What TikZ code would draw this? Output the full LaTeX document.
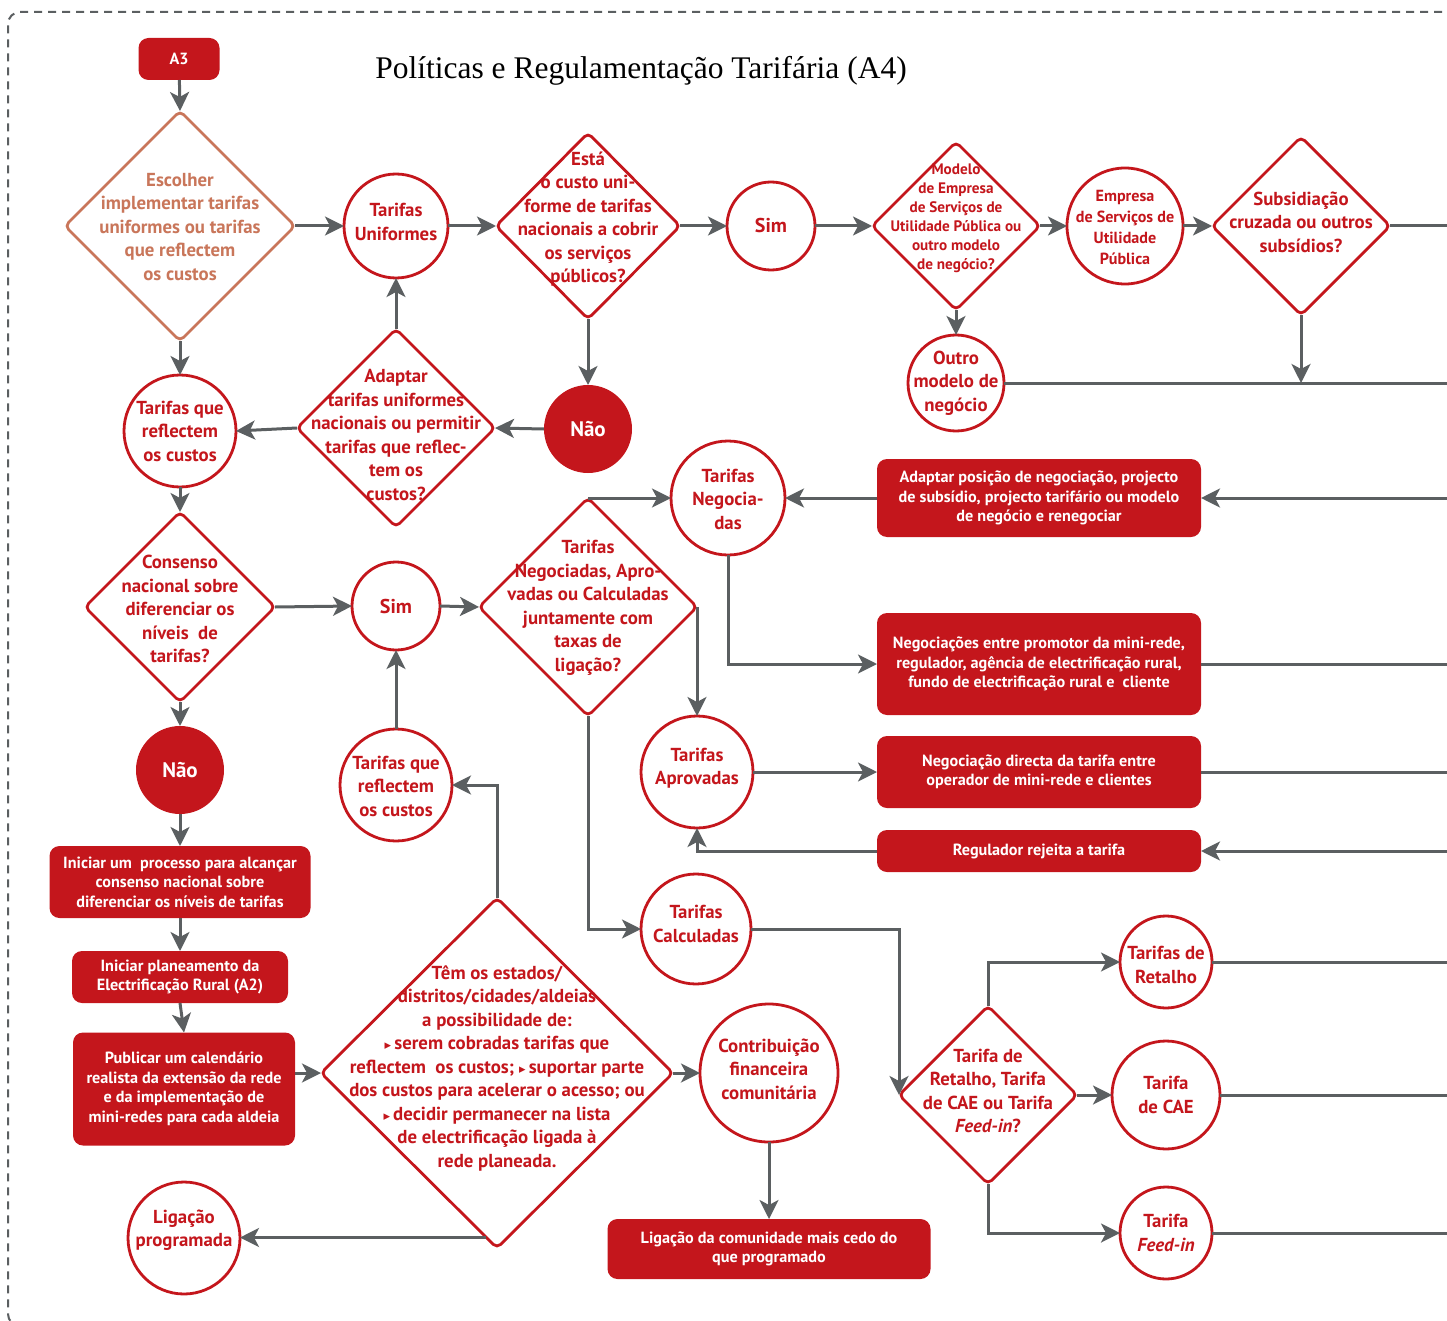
\documentclass[tikz,border=0pt]{standalone}
\usepackage{fontspec}
\setmainfont{PT Sans}
\newfontfamily\titlefont{Liberation Serif}
\newfontfamily\symfont{DejaVu Sans}
\usetikzlibrary{shapes.geometric,arrows.meta,calc}
\definecolor{fred}{HTML}{C4161C}
\definecolor{forange}{HTML}{C9765A}
\definecolor{fgray}{HTML}{5B5F61}
\newcommand{\tri}{{\symfont\fontsize{13}{13}\selectfont ▸}\,}
\begin{document}
\begin{tikzpicture}[x=1pt,y=-1pt,
  conn/.style={draw=fgray, line width=3pt, -{Stealth[length=19pt,width=19pt,inset=5pt]}},
  plain/.style={draw=fgray, line width=3pt},
  circ/.style={circle, draw=fred, line width=2.8pt, fill=white, inner sep=0pt, outer sep=0pt},
  disk/.style={circle, fill=fred, inner sep=0pt, outer sep=0pt, text=white,
    font=\bfseries\fontsize{21}{24}\selectfont},
  dia/.style={diamond, draw=fred, line width=2.8pt, rounded corners=5pt, fill=white,
    inner sep=0pt, outer sep=0pt},
  box/.style={rectangle, rounded corners=10pt, fill=fred, inner sep=0pt, outer sep=0pt,
    text=white, align=center, font=\bfseries\fontsize{16.2}{19.5}\selectfont},
  rt/.style={text=fred, align=center, inner sep=0pt, font=\bfseries\fontsize{18.8}{23.5}\selectfont},
  st/.style={text=fred, align=center, inner sep=0pt, font=\bfseries\fontsize{15.2}{19}\selectfont},
  mt/.style={text=fred, align=center, inner sep=0pt, font=\bfseries\fontsize{16.1}{21}\selectfont},
  ot/.style={text=forange, align=center, inner sep=0pt, font=\bfseries\fontsize{18.8}{23.5}\selectfont},
]
\useasboundingbox (0,0) rectangle (1447,1321);

% dashed frame
\draw[fgray, line width=2pt, dash pattern=on 8pt off 6pt, rounded corners=12pt]
  (1470,12) -- (8,12) -- (8,1326) -- (60,1326);

% title
\node[inner sep=0pt, font=\titlefont\fontsize{31.5}{36}\selectfont] (title) at (641,71)
  {Políticas e Regulamentação Tarifária (A4)};

% start tag
\node[box, minimum width=81, minimum height=42] (a3) at (179,59) {A3};

% top row
\node[dia, draw=forange, minimum width=230, minimum height=230] (d1) at (180,226) {};
\node[ot] (d1t) at (180,227) {Escolher\\implementar tarifas\\uniformes ou tarifas\\que reflectem\\os custos};

\node[circ, minimum size=104] (c1) at (396,226) {};
\node[rt] (c1t) at (396,222) {Tarifas\\Uniformes};

\node[dia, minimum width=184, minimum height=186] (d2) at (588,226) {};
\node[rt] (d2t) at (588,219) {Está\\o custo uni-\\forme de tarifas\\nacionais a cobrir\\os serviços\\públicos?};

\node[circ, minimum size=88] (sim1) at (771,226) {};
\node[rt, font=\bfseries\fontsize{20}{24}\selectfont] (sim1t) at (771,226) {Sim};

\node[dia, minimum width=168, minimum height=168] (d3) at (956,226) {};
\node[st] (d3t) at (956,218) {Modelo\\de Empresa\\de Serviços de\\Utilidade Pública ou\\outro modelo\\de negócio?};

\node[circ, minimum size=116] (emp) at (1125,226) {};
\node[mt] (empt) at (1125,227) {Empresa\\de Serviços de\\Utilidade\\Pública};

\node[dia, minimum width=178, minimum height=178] (d4) at (1301,226) {};
\node[rt] (d4t) at (1301,222) {Subsidiação\\cruzada ou outros\\subsídios?};

\node[circ, minimum size=96] (outro) at (956,383) {};
\node[rt] (outrot) at (956,383) {Outro\\modelo de\\negócio};

\node[disk, minimum size=88] (nao1) at (588,429) {Não};

\node[dia, minimum width=198, minimum height=198] (d5) at (396,428) {};
\node[rt] (d5t) at (396,435) {Adaptar\\tarifas uniformes\\nacionais ou permitir\\tarifas que reflec-\\tem os\\custos?};

\node[circ, minimum size=112] (c2) at (180,431) {};
\node[rt] (c2t) at (180,431) {Tarifas que\\reflectem\\os custos};

% middle
\node[dia, minimum width=190, minimum height=190] (d6) at (180,607) {};
\node[rt] (d6t) at (180,609) {Consenso\\nacional sobre\\diferenciar os\\níveis\ \ de\\tarifas?};

\node[circ, minimum size=88] (sim2) at (396,606) {};
\node[rt, font=\bfseries\fontsize{20}{24}\selectfont] (sim2t) at (396,606) {Sim};

\node[dia, minimum width=218, minimum height=218] (d7) at (588,607) {};
\node[rt] (d7t) at (588,608) {Tarifas\\Negociadas, Apro-\\vadas ou Calculadas\\juntamente com\\taxas de\\ligação?};

\node[circ, minimum size=114] (neg) at (728,498) {};
\node[rt] (negt) at (728,499) {Tarifas\\Negocia-\\das};

\node[box, minimum width=324, minimum height=78] (b1) at (1039,498)
  {Adaptar posição de negociação, projecto\\de subsídio, projecto tarifário ou modelo\\de negócio e renegociar};
\node[box, minimum width=324, minimum height=102] (b2) at (1039,664)
  {Negociações entre promotor da mini-rede,\\regulador, agência de electrificação rural,\\fundo de electrificação rural e\ \ cliente};
\node[box, minimum width=324, minimum height=72] (b3) at (1039,772)
  {Negociação directa da tarifa entre\\operador de mini-rede e clientes};
\node[box, minimum width=324, minimum height=42] (b4) at (1039,851)
  {Regulador rejeita a tarifa};

\node[circ, minimum size=112] (apr) at (697,772) {};
\node[rt] (aprt) at (697,768) {Tarifas\\Aprovadas};

\node[circ, minimum size=110] (calc) at (696,929) {};
\node[rt] (calct) at (696,924) {Tarifas\\Calculadas};

\node[dia, minimum width=178, minimum height=178] (d8) at (988,1095) {};
\node[rt] (d8t) at (988,1091) {Tarifa de\\Retalho, Tarifa\\de CAE ou Tarifa\\\textit{Feed-in}?};

\node[circ, minimum size=92] (ret) at (1166,962) {};
\node[rt] (rett) at (1166,965) {Tarifas de\\Retalho};
\node[circ, minimum size=108] (cae) at (1166,1095) {};
\node[rt] (caet) at (1166,1095) {Tarifa\\de CAE};
\node[circ, minimum size=92] (fee) at (1166,1233) {};
\node[rt] (feet) at (1166,1233) {Tarifa\\\textit{Feed-in}};

% lower left
\node[disk, minimum size=88] (nao2) at (180,770) {Não};
\node[box, minimum width=261, minimum height=72] (l1) at (180,882)
  {Iniciar um\ \ processo para alcançar\\consenso nacional sobre\\diferenciar os níveis de tarifas};
\node[box, minimum width=216, minimum height=52] (l2) at (180,977)
  {Iniciar planeamento da\\Electrificação Rural (A2)};
\node[box, minimum width=222, minimum height=113] (l3) at (184,1089)
  {Publicar um calendário\\realista da extensão da rede\\e da implementação de\\mini-redes para cada aldeia};

\node[circ, minimum size=112] (c3) at (396,785) {};
\node[rt] (c3t) at (396,786) {Tarifas que\\reflectem\\os custos};

\node[dia, minimum width=352, minimum height=350] (d9) at (497,1073) {};
\node[rt] (d9t) at (497,1068) {Têm os estados/\\distritos/cidades/aldeias\\a possibilidade de:\\\tri serem cobradas tarifas que\\reflectem\ \ os custos; \tri suportar parte\\dos custos para acelerar o acesso; ou\\\tri decidir permanecer na lista\\de electrificação ligada à\\rede planeada.};

\node[circ, minimum size=112] (lig) at (184,1238) {};
\node[rt] (ligt) at (184,1230) {Ligação\\programada};

\node[circ, minimum size=138] (cont) at (769,1073) {};
\node[rt] (contt) at (769,1069) {Contribuição\\financeira\\comunitária};

\node[box, minimum width=323, minimum height=60] (b5) at (769,1249)
  {Ligação da comunidade mais cedo do\\que programado};

% open ends at the right margin
\coordinate (r1) at (1447,226);
\coordinate (r2) at (1447,383);
\coordinate (r3) at (1447,498);
\coordinate (r4) at (1447,664);
\coordinate (r5) at (1447,772);
\coordinate (r6) at (1447,851);
\coordinate (r7) at (1447,962);
\coordinate (r8) at (1447,1095);
\coordinate (r9) at (1447,1233);
\coordinate (ligstart) at ($(d9.west)!0.94!(d9.south)$);

% connectors
\draw[conn] (a3) -- (d1.north);
\draw[conn] (d1.east) -- (c1.west);
\draw[conn] (c1.east) -- (d2.west);
\draw[conn] (d2.east) -- (sim1.west);
\draw[conn] (sim1.east) -- (d3.west);
\draw[conn] (d3.east) -- (emp.west);
\draw[conn] (emp.east) -- (d4.west);
\draw[plain] (d4.east) -- (r1);
\draw[conn] (d3.south) -- (outro.north);
\draw[plain] (outro.east) -- (r2);
\draw[conn] (d4.south) -- (d4.south |- r2);
\draw[conn] (d2.south) -- (nao1.north);
\draw[conn] (nao1.west) -- (d5.east);
\draw[conn] (d5.north) -- (c1.south);
\draw[conn] (d5.west) -- (c2.east);
\draw[conn] (d1.south) -- (c2.north);
\draw[conn] (c2.south) -- (d6.north);
\draw[conn] (d6.east) -- (sim2.west);
\draw[conn] (sim2.east) -- (d7.west);
\draw[conn] (d7.north) -- (d7.north -| neg.west);
\draw[conn] (b1.west) -- (neg.east);
\draw[conn] (r3) -- (b1.east);
\draw[conn] (neg.south) |- (b2.west);
\draw[plain] (b2.east) -- (r4);
\draw[conn] (d7.east) -- (apr.north);
\draw[conn] (apr.east) -- (b3.west);
\draw[plain] (b3.east) -- (r5);
\draw[conn] (r6) -- (b4.east);
\draw[conn] (b4.west) -| (apr.south);
\draw[conn] (d7.south) |- (calc.west);
\draw[conn] (calc.east) -| (d8.west);
\draw[conn] (d8.north) |- (ret.west);
\draw[conn] (d8.east) -- (cae.west);
\draw[conn] (d8.south) |- (fee.west);
\draw[plain] (ret.east) -- (r7);
\draw[plain] (cae.east) -- (r8);
\draw[plain] (fee.east) -- (r9);
\draw[conn] (d6.south) -- (nao2.north);
\draw[conn] (nao2.south) -- (l1.north);
\draw[conn] (l1.south) -- (l2.north);
\draw[conn] (l2.south) -- (l3.north);
\draw[conn] (l3.east |- d9.west) -- (d9.west);
\draw[conn] (d9.north) |- (c3.east);
\draw[conn] (c3.north) -- (sim2.south);
\draw[conn] (d9.east) -- (cont.west);
\draw[conn] (cont.south) -- (b5.north);
\draw[conn] (ligstart) -- (ligstart -| lig.east);
\end{tikzpicture}
\end{document}
